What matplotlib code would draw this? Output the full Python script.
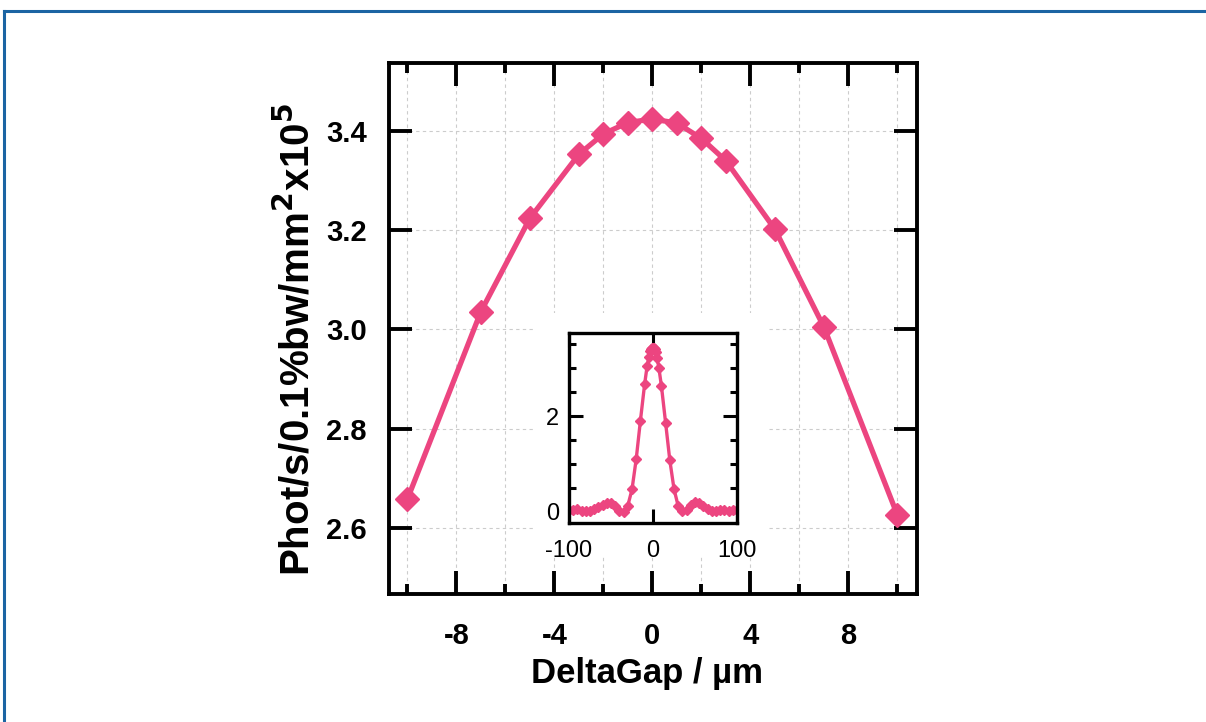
import numpy as np
import matplotlib.pyplot as plt
from matplotlib.patches import Rectangle
from matplotlib.lines import Line2D
from matplotlib.ticker import MultipleLocator, FixedLocator

plt.rcParams['font.family'] = ['Liberation Sans', 'DejaVu Sans']
plt.rcParams['axes.unicode_minus'] = False

# main scan: photon flux vs gap offset
gap_um = [-10, -7, -5, -3, -2, -1, 0, 1, 2, 3, 5, 7, 10]
flux = [2.658, 3.036, 3.224, 3.353, 3.394, 3.417, 3.424, 3.416, 3.385, 3.340,
        3.202, 3.005, 2.626]

# inset: wide scan
inset_gap = [-100, -95, -90, -85, -80, -75, -70, -65, -60, -55, -50, -45, -40,
             -35, -30, -25, -20, -15, -10, -7, -5, -3, -2, -1, 0, 1, 2, 3, 5,
             7, 10, 15, 20, 25, 30, 35, 40, 45, 50, 55, 60, 65, 70, 75, 80, 85,
             90, 95, 100]
inset_flux = [0.05, 0.04, 0.06, 0.03, 0.02, 0.03, 0.06, 0.10, 0.15, 0.19, 0.18,
              0.12, 0.03, 0.00, 0.13, 0.47, 1.10, 1.90, 2.66, 3.04, 3.22, 3.35,
              3.39, 3.42, 3.42, 3.42, 3.39, 3.34, 3.20, 3.00, 2.63, 1.86, 1.08,
              0.48, 0.12, 0.02, 0.05, 0.15, 0.21, 0.19, 0.13, 0.07, 0.03, 0.02,
              0.04, 0.05, 0.03, 0.04, 0.04]

pink = '#EC4580'
W, H = 1206, 722

fig = plt.figure(figsize=(W / 100, H / 100), dpi=100)

# blue frame lines along top and left edge
fig.add_artist(Line2D([4 / W, 1], [1 - 11 / H, 1 - 11 / H], color='#1b64a3',
                      lw=2.2, transform=fig.transFigure))
fig.add_artist(Line2D([4 / W, 4 / W], [0, 1 - 11 / H], color='#1b64a3',
                      lw=2.2, transform=fig.transFigure))

ax = fig.add_axes([389 / W, 1 - 594 / H, 528 / W, 531 / H], zorder=0)
ax.plot(gap_um, flux, color=pink, lw=3.8, marker='D', ms=12, mec=pink,
        mfc=pink, zorder=3)
ax.set_xlim(-10.75, 10.8)
ax.set_ylim(2.467, 3.537)
ax.xaxis.set_major_locator(MultipleLocator(4))
ax.xaxis.set_minor_locator(MultipleLocator(2))
ax.yaxis.set_major_locator(MultipleLocator(0.2))
ax.yaxis.set_major_formatter(plt.FormatStrFormatter('%.1f'))
ax.tick_params(which='both', direction='in', top=True, right=True, width=2.8,
               labelsize=21, pad=16)
ax.tick_params(which='major', length=16.5)
ax.tick_params(which='minor', length=7)
ax.tick_params(axis='x', pad=20)
for lab in ax.get_xticklabels() + ax.get_yticklabels():
    lab.set_fontweight('bold')
for s in ax.spines.values():
    s.set_linewidth(2.8)
ax.grid(which='both', axis='x', color='#cccccc', ls=(0, (3, 3)), lw=0.8)
ax.grid(which='major', axis='y', color='#cccccc', ls=(0, (3, 3)), lw=0.8)
ax.set_xlabel('DeltaGap / µm', fontsize=25, fontweight='bold', va='center')
ax.xaxis.set_label_coords(0.488, -0.149)
ax.set_ylabel('Phot/s/0.1%bw/mm$^\\mathbf{2}$x10$^\\mathbf{5}$', fontsize=29,
              fontweight='bold', va='center')
ax.yaxis.set_label_coords(-0.174, 0.48)

# white patch behind the inset hides the grid
fig.add_artist(Rectangle((535 / W, 1 - 557 / H), 232 / W, 244 / H,
                         transform=fig.transFigure, facecolor='white',
                         edgecolor='none', zorder=1))

ins = fig.add_axes([569 / W, 1 - 523 / H, 168 / W, 190 / H], zorder=2)
ins.plot(inset_gap, inset_flux, color=pink, lw=2.4, marker='D', ms=5.5,
         mec=pink, mfc=pink)
ins.set_xlim(-100, 100)
ins.set_ylim(-0.23, 3.73)
ins.xaxis.set_major_locator(FixedLocator([-100, 0, 100]))
ins.yaxis.set_major_locator(MultipleLocator(2))
ins.yaxis.set_minor_locator(MultipleLocator(0.5))
ins.tick_params(which='both', direction='in', top=True, right=True, width=2.2,
                labelsize=17, pad=7)
ins.tick_params(which='major', length=10)
ins.tick_params(which='minor', length=5)
ins.tick_params(axis='x', pad=12)
for s in ins.spines.values():
    s.set_linewidth(2.4)

fig.savefig('out.png', dpi=100)
